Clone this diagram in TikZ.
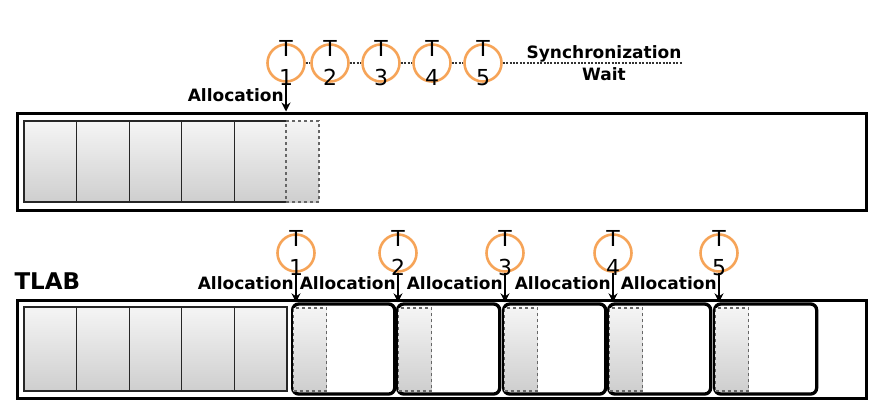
\documentclass[tikz,border=0pt]{standalone}
\usepackage{fontspec}
\setmainfont{DejaVu Sans}
\usetikzlibrary{arrows.meta, positioning, calc}
\definecolor{threadorange}{RGB}{246,164,88}
\tikzset{
    cell/.style={
        draw=black!85,
        line width=1.2pt,
        top color=gray!8,
        bottom color=gray!38,
        minimum width=52.6pt,
        inner sep=0pt
    },
    newcell/.style={
        draw=black!60,
        dashed,
        line width=1.1pt,
        top color=gray!8,
        bottom color=gray!38,
        minimum width=33pt,
        inner sep=0pt
    },
    heapbox/.style={draw, line width=3pt, minimum width=849pt, inner sep=0pt},
    tlabbox/.style={draw, line width=3.3pt, rounded corners=6pt, minimum width=102pt, minimum height=90pt, inner sep=0pt},
    thread/.style={circle, draw=threadorange, line width=2.6pt, minimum size=37pt, inner sep=0pt},
    tlabel/.style={font=\mdseries\fontsize{22}{29}\selectfont, align=center},
    line/.style={-{Stealth[length=9pt,width=9pt]}, line width=1.8pt},
    syncline/.style={dash pattern=on 2pt off 1.4pt, line width=2.2pt, black!80},
    every node/.style={font=\bfseries\fontsize{17}{22}\selectfont}
}
\begin{document}
\begin{tikzpicture}[x=1pt, y=-1pt]
\useasboundingbox (0,0) rectangle (886,410);

% shared heap, one allocation at a time
\node[heapbox, minimum height=97pt] (heap) at (441.5,161.5) {};
\foreach \i in {0,...,4}
  \node[cell, minimum height=81pt] (hc\i) at ({50.3+52.6*\i},161.5) {};
\node[newcell, minimum height=81pt] (hnew) at (302.5,161.5) {};

\foreach \x [count=\n] in {286,330,381,432,483}
  \node[thread, label={[tlabel]center:{T\\\n}}] (s\n) at (\x,63) {};
\foreach \a/\b in {s1/s2,s2/s3,s3/s4,s4/s5}
  \draw[syncline] (\a) -- (\b);
\coordinate (syncend) at (682,63);
\draw[syncline] (s5) -- (syncend);
\node[align=center] (sync) at (604,63) {Synchronization\\Wait};

\draw[line] (s1) -- (s1 |- heap.north) node[midway, left, inner sep=1.5pt, yshift=2pt] (alloc0) {Allocation};

% TLAB
\node[heapbox, minimum height=98pt] (tlab) at (441.5,349) {};
\node[anchor=west, font=\bfseries\fontsize{23}{23}\selectfont] (tlabname) at (11,281) {TLAB};
\foreach \i in {0,...,4}
  \node[cell, minimum height=84pt] (tc\i) at ({50.3+52.6*\i},349) {};

\foreach \x [count=\n] in {291,396,502,607,713} {
  \node[tlabbox, anchor=west] (b\n) at (\x,349) {};
  \node[newcell, minimum height=83pt, anchor=west] (bn\n) at (\x+2,349.5) {};
}
\foreach \x [count=\n] in {296,398,505,613,719} {
  \node[thread, label={[tlabel]center:{T\\\n}}] (t\n) at (\x,253) {};
  \draw[line] (t\n) -- (t\n |- b\n.north) node[midway, left, inner sep=1.5pt, yshift=4pt] (alloc\n) {Allocation};
}
\end{tikzpicture}
\end{document}
